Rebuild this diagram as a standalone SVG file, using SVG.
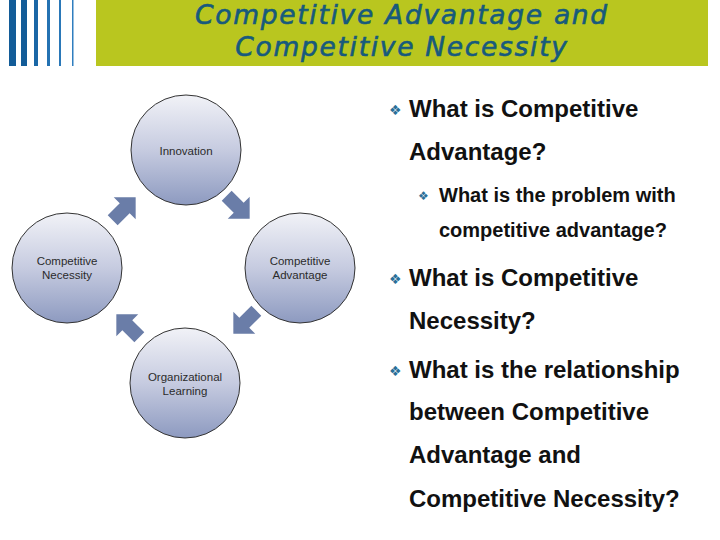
<svg xmlns="http://www.w3.org/2000/svg" width="720" height="540" viewBox="0 0 720 540">
  <defs>
    <linearGradient id="cg" x1="0" y1="0" x2="0" y2="1">
      <stop offset="0" stop-color="#f1f2f7"/>
      <stop offset="0.5" stop-color="#c6cbe0"/>
      <stop offset="1" stop-color="#8d9ac0"/>
    </linearGradient>
    <path id="arr" d="M -16,-7 L 1,-7 L 1,-15.5 L 16.5,0 L 1,15.5 L 1,7 L -16,7 Z"/>
  </defs>
  <style>
    .circ { fill: url(#cg); stroke: #333333; stroke-width: 1; }
    .lbl { font-family: "Liberation Sans", Arial, sans-serif; font-size: 11.5px; fill: #2b2b2b; text-anchor: middle; }
    .arrow { fill: #6a7da8; }
    .title { font-family: "DejaVu Sans", Verdana, sans-serif; font-style: italic; font-size: 26.5px; fill: #175a7c; stroke: #175a7c; stroke-width: 0.6px; text-anchor: middle; letter-spacing: 1.7px; }
    .main { font-family: "Liberation Sans", Arial, sans-serif; font-weight: bold; font-size: 24px; fill: #111; }
    .sub { font-family: "Liberation Sans", Arial, sans-serif; font-weight: bold; font-size: 20px; fill: #111; }
    .bul { font-family: "DejaVu Sans", sans-serif; fill: #2a6f98; }
  </style>
  <rect width="720" height="540" fill="#ffffff"/>

  <!-- header -->
  <g id="header">
    <rect x="9" y="0" width="7" height="66" fill="#135c98"/>
    <rect x="21" y="0" width="6" height="66" fill="#135c98"/>
    <rect x="34" y="0" width="4" height="66" fill="#1a67a6"/>
    <rect x="47" y="0" width="3" height="66" fill="#2472b2"/>
    <rect x="59" y="0" width="2" height="66" fill="#2a78b8"/>
    <rect x="72" y="0" width="1.5" height="66" fill="#2f7ebf"/>
    <rect x="96" y="0" width="612" height="66" fill="#b9c61f"/>
    <text class="title" x="402" y="24">Competitive Advantage and</text>
    <text class="title" x="402" y="56">Competitive Necessity</text>
  </g>

  <!-- nodes -->
  <g id="innovation">
    <circle class="circ" cx="186" cy="150" r="55"/>
    <text class="lbl" x="186" y="155">Innovation</text>
  </g>
  <g id="competitive-necessity">
    <circle class="circ" cx="67" cy="268" r="55"/>
    <text class="lbl" x="67" y="265">Competitive</text>
    <text class="lbl" x="67" y="279">Necessity</text>
  </g>
  <g id="competitive-advantage">
    <circle class="circ" cx="300" cy="268" r="55"/>
    <text class="lbl" x="300" y="265">Competitive</text>
    <text class="lbl" x="300" y="279">Advantage</text>
  </g>
  <g id="organizational-learning">
    <circle class="circ" cx="185" cy="383" r="55"/>
    <text class="lbl" x="185" y="381">Organizational</text>
    <text class="lbl" x="185" y="395">Learning</text>
  </g>

  <!-- connectors -->
  <g id="connectors">
    <use href="#arr" class="arrow" transform="translate(124,209) rotate(-45)"/>
    <use href="#arr" class="arrow" transform="translate(238,207) rotate(45)"/>
    <use href="#arr" class="arrow" transform="translate(245,322) rotate(135)"/>
    <use href="#arr" class="arrow" transform="translate(128,326) rotate(-135)"/>
  </g>

  <!-- bullet text -->
  <g id="bullets">
    <text class="bul" x="389" y="115" font-size="14">❖</text>
    <text class="main" x="409" y="117">What is Competitive</text>
    <text class="main" x="409" y="160">Advantage?</text>
    <text class="bul" x="418" y="200" font-size="12">❖</text>
    <text class="sub" x="439" y="202">What is the problem with</text>
    <text class="sub" x="439" y="237">competitive advantage?</text>
    <text class="bul" x="389" y="284" font-size="14">❖</text>
    <text class="main" x="409" y="286">What is Competitive</text>
    <text class="main" x="409" y="329">Necessity?</text>
    <text class="bul" x="389" y="376" font-size="14">❖</text>
    <text class="main" x="409" y="378">What is the relationship</text>
    <text class="main" x="409" y="420">between Competitive</text>
    <text class="main" x="409" y="463">Advantage and</text>
    <text class="main" x="409" y="507">Competitive Necessity?</text>
  </g>
</svg>
